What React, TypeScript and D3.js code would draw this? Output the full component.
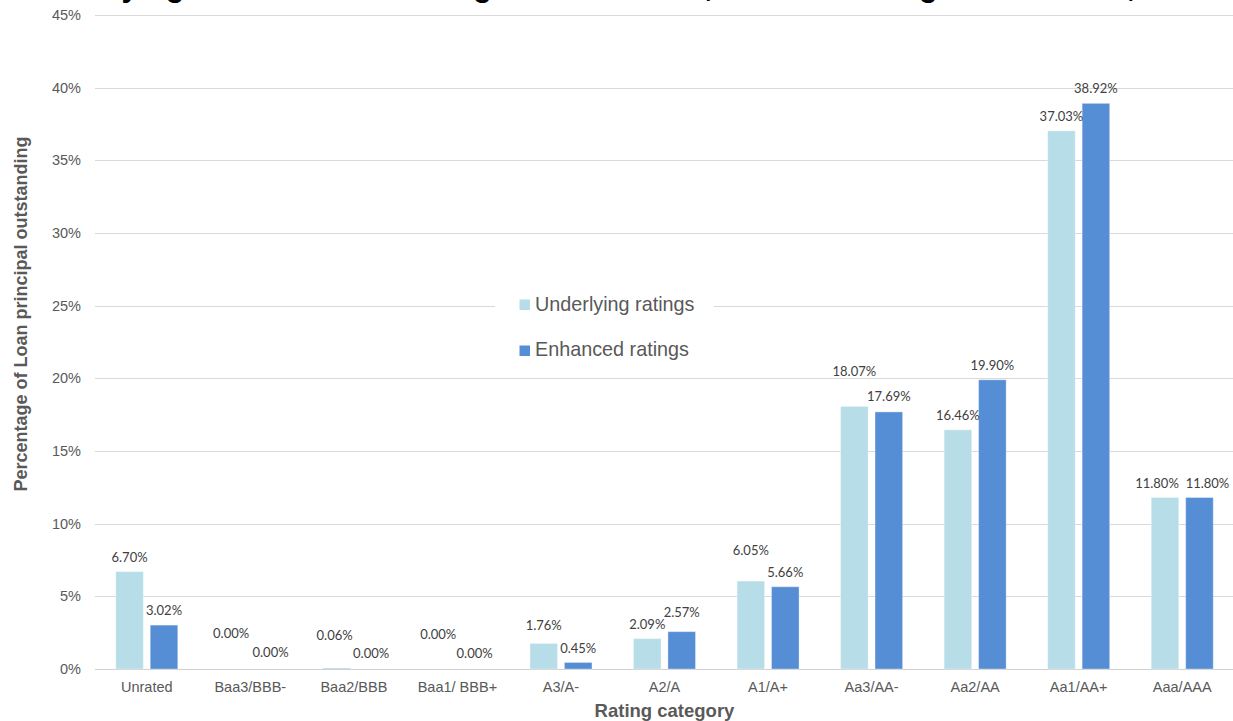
import React from "react";
import * as d3 from "d3";

// Rating buckets and share of loan principal outstanding (%)
const categories = [
  "Unrated",
  "Baa3/BBB-",
  "Baa2/BBB",
  "Baa1/ BBB+",
  "A3/A-",
  "A2/A",
  "A1/A+",
  "Aa3/AA-",
  "Aa2/AA",
  "Aa1/AA+",
  "Aaa/AAA",
];
const underlying = [6.7, 0.0, 0.06, 0.0, 1.76, 2.09, 6.05, 18.07, 16.46, 37.03, 11.8];
const enhanced = [3.02, 0.0, 0.0, 0.0, 0.45, 2.57, 5.66, 17.69, 19.9, 38.92, 11.8];
const seriesNames = ["Underlying ratings", "Enhanced ratings"];
const yTicks = [0, 5, 10, 15, 20, 25, 30, 35, 40, 45];

const COLORS = ["#B7DEE8", "#558ED5"];
const W = 1233;
const H = 721;
const M = { left: 95, right: 1234, top: 15, bottom: 669 };

// hand-placed nudges for value labels that would otherwise collide
// [underlying dx, underlying dy, enhanced dx, enhanced dy]
const labelNudge: Record<string, number[]> = {
  "Baa3/BBB-": [-2, -21, 3, -2],
  "Baa2/BBB": [-2, -18, 0, -1],
  "Baa1/ BBB+": [-2, -20, 0, -1],
  "A3/A-": [0, -3, 0, 1],
  "A2/A": [0, 0, 0, -5],
  "A1/A+": [0, -16, 0, 0],
  "Aa3/AA-": [0, -20, 0, -1],
  "Aaa/AAA": [-8, 0, 8, 0],
};

const AXIS_FONT = "'Liberation Sans', Arial, sans-serif";
const LABEL_FONT = "Lato, 'Open Sans', sans-serif";

export default function App() {
  const x0 = d3
    .scaleBand<string>()
    .domain(categories)
    .range([M.left, M.right])
    .paddingInner(0.401)
    .paddingOuter(0.2005);
  const x1 = d3
    .scaleBand<string>()
    .domain(seriesNames)
    .range([0, x0.bandwidth()])
    .paddingInner(0.2);
  const y = d3.scaleLinear().domain([0, 45]).range([M.bottom, M.top]);
  const fmt = (v: number) => d3.format(".2f")(v) + "%";

  const series = [underlying, enhanced];

  return (
    <svg
      width={W}
      height={H}
      style={{ position: "absolute", left: 0, top: 0, background: "#fff" }}
    >
      <rect x={0} y={0} width={W} height={H} fill="#fff" />

      {/* title, mostly above the visible frame */}
      <text
        fontFamily={AXIS_FONT}
        fontWeight="bold"
        fontSize={30.6}
        fill="#000"
        y={-3.8}
      >
        <tspan x={24.6}>Underlying and enhanced ratings of SRF loans,</tspan>
        <tspan x={727}>in outstanding loan amount</tspan>
        <tspan x={1127}>, 2020</tspan>
      </text>

      {/* gridlines */}
      {yTicks.map((t) => (
        <line
          key={"g" + t}
          x1={M.left}
          x2={W}
          y1={Math.round(y(t)) + 0.5}
          y2={Math.round(y(t)) + 0.5}
          stroke={t === 0 ? "#d0d0d0" : "#d9d9d9"}
          strokeWidth={1}
        />
      ))}

      {/* y tick labels */}
      {yTicks.map((t) => (
        <text
          key={"yt" + t}
          x={81}
          y={y(t)}
          dy="0.35em"
          textAnchor="end"
          fontFamily={AXIS_FONT}
          fontSize={14.5}
          fill="#595959"
        >
          {t + "%"}
        </text>
      ))}

      {/* bars */}
      {categories.map((c, i) => (
        <g key={"bars" + c} transform={`translate(${x0(c)},0)`}>
          {series.map((vals, s) => (
            <rect
              key={s}
              x={x1(seriesNames[s])}
              y={y(vals[i])}
              width={x1.bandwidth()}
              height={y(0) - y(vals[i])}
              fill={COLORS[s]}
              stroke="rgba(255,255,255,0.35)"
              strokeWidth={vals[i] > 0.3 ? 1 : 0}
            />
          ))}
        </g>
      ))}

      {/* value labels */}
      {categories.map((c, i) => (
        <g key={"lab" + c}>
          {series.map((vals, s) => {
            const n = labelNudge[c] || [0, 0, 0, 0];
            const cx = (x0(c) as number) + (x1(seriesNames[s]) as number) + x1.bandwidth() / 2;
            return (
              <text
                key={s}
                x={cx + n[s * 2]}
                y={y(vals[i]) - 10 + n[s * 2 + 1]}
                textAnchor="middle"
                fontFamily={LABEL_FONT}
                fontSize={13}
                fill="#404040"
              >
                {fmt(vals[i])}
              </text>
            );
          })}
        </g>
      ))}

      {/* x tick labels */}
      {categories.map((c) => (
        <text
          key={"xt" + c}
          x={(x0(c) as number) + x0.bandwidth() / 2}
          y={692}
          textAnchor="middle"
          fontFamily={AXIS_FONT}
          fontSize={14.5}
          fill="#595959"
        >
          {c}
        </text>
      ))}

      {/* axis titles */}
      <text
        x={(M.left + M.right) / 2}
        y={717}
        textAnchor="middle"
        fontFamily={AXIS_FONT}
        fontWeight="bold"
        fontSize={18.5}
        fill="#595959"
      >
        Rating category
      </text>
      <text
        transform="translate(26.5,314) rotate(-90)"
        textAnchor="middle"
        fontFamily={AXIS_FONT}
        fontWeight="bold"
        fontSize={18}
        fill="#595959"
      >
        Percentage of Loan principal outstanding
      </text>

      {/* legend */}
      <rect x={495} y={283} width={219} height={90} fill="#fff" />
      {seriesNames.map((name, s) => (
        <g key={"leg" + name}>
          <rect x={519.5} y={299.5 + s * 46} width={10.5} height={10.5} fill={COLORS[s]} />
          <text
            x={535}
            y={310.7 + s * 45.5}
            fontFamily={AXIS_FONT}
            fontSize={19.8}
            fill="#595959"
          >
            {name}
          </text>
        </g>
      ))}
    </svg>
  );
}
